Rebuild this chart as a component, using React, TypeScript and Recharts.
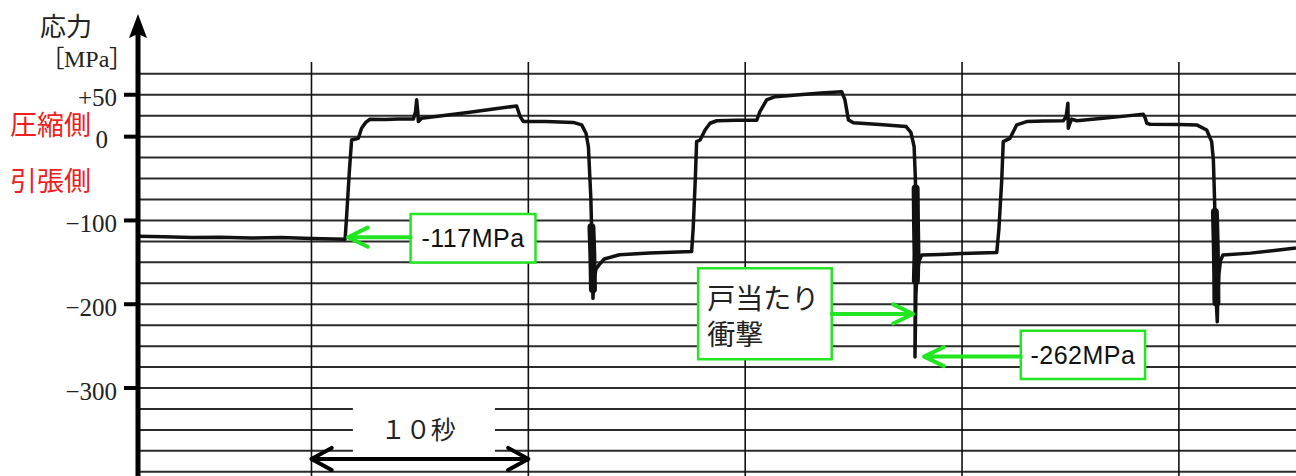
import React from 'react'
import { LineChart, Line, XAxis, YAxis, CartesianGrid, ReferenceLine, ReferenceArea, ReferenceDot } from 'recharts'

// time in seconds, stress in MPa (compression positive)
const TIME_DOMAIN: [number, number] = [2, 55.4]
const STRESS_DOMAIN: [number, number] = [-405, 89.1]
const STRESS_TICKS = [50, 0, -100, -200, -300]
const STRESS_GRID = [75, 50, 25, 0, -25, -50, -75, -100, -125, -150, -175, -200, -225, -250, -275, -300, -325, -350, -375, -400]
const TIME_GRID = [10, 20, 30, 40, 50]

// [t, MPa]
const baseline0 = [
  [2.0, -119], [3.2, -119.5], [4.5, -120.5], [5.8, -120], [7.2, -121], [8.6, -120.5], [10.0, -121.5], [11.55, -122.4],
]
const cycle1 = [
  [11.62, -95], [11.75, -40], [11.85, -4], [12.16, -2], [12.31, 10], [12.5, 17], [12.7, 20.8], [13.4, 20.5],
  [14.0, 21.2], [14.7, 21], [14.8, 30], [14.85, 44], [14.9, 30], [14.93, 18], [15.08, 22], [16.2, 25.5],
  [17.3, 29], [18.4, 33], [19.46, 36.6], [19.62, 24], [19.77, 18], [20.8, 18], [22.07, 17], [22.46, 14],
  [22.66, 4], [22.77, -12], [22.88, -72], [22.93, -120], [22.98, -193], [23.02, -172], [23.12, -158],
  [23.26, -153], [23.5, -146], [24.2, -141], [25.6, -139], [27.53, -137.2],
]
const cycle2 = [
  [27.6, -110], [27.7, -50], [27.76, -6], [27.92, -4], [28.15, 8], [28.38, 16], [28.69, 19], [29.6, 19.5],
  [30.53, 19.5], [30.68, 30], [30.99, 43.8], [31.38, 47.7], [32.5, 50], [33.5, 52], [34.45, 53.7],
  [34.6, 43.8], [34.76, 20], [34.99, 16.7], [36.2, 14.5], [37.42, 12], [37.64, 5], [37.79, -12],
  [37.85, -52], [37.87, -120], [37.84, -180], [37.83, -263], [37.87, -190], [37.92, -165], [38.02, -148],
  [38.14, -141.2], [39.0, -140.5], [40.0, -139.5], [41.6, -138.4],
]
const cycle3 = [
  [41.7, -110], [41.83, -52], [41.9, -6], [42.21, -2], [42.52, 14], [42.98, 18], [43.8, 18.6], [44.67, 19],
  [44.8, 24], [44.88, 40], [44.9, 10], [44.96, 15], [45.05, 21], [45.29, 19], [46.5, 22], [47.5, 24.5],
  [48.36, 26.7], [48.45, 22], [48.52, 16], [48.67, 14.8], [50.0, 14.5], [50.82, 14], [51.28, 8],
  [51.51, -6], [51.59, -28], [51.65, -80], [51.7, -140], [51.73, -200], [51.77, -221], [51.79, -195],
  [51.84, -165], [51.92, -148], [52.03, -141.2], [53.3, -139], [54.5, -135.5], [55.4, -132.8],
]

// thick smeared parts of the pen at each door impact
const smear1 = [[22.91, -108], [22.95, -140], [22.97, -165], [22.98, -182]]
const smear2 = [[37.86, -62], [37.88, -110], [37.9, -140], [37.87, -172]]
const smear3 = [[51.66, -90], [51.7, -130], [51.72, -165], [51.73, -198]]

const toPoints = (rows: number[][]) => rows.map(([t, v]) => ({ t, v }))
const trace = toPoints([...baseline0, ...cycle1, ...cycle2, ...cycle3])
const smears = [smear1, smear2, smear3].map(toPoints)

// callouts (data units)
const callouts = [
  { lines: ['-117MPa'], t: [14.57, 20.33], v: [-92.4, -150.1], arrow: { from: 14.57, to: 11.68, v: -120 } },
  { lines: ['戸当たり', '衝撃'], t: [27.83, 33.99], v: [-157, -265.6], arrow: { from: 33.99, to: 37.74, v: -211.6 } },
  { lines: ['-262MPa'], t: [42.71, 48.44], v: [-231.5, -289.1], arrow: { from: 42.71, to: 38.25, v: -262.5 } },
]
const span10s = { from: 10, to: 20, v: -384.6, label: '１０秒', box: { t: [11.91, 18.46], v: [-307, -380] } }

const GREEN = '#22e622'
const SERIF = "'Liberation Serif', 'Noto Sans CJK JP', serif"
const SANS = "'Liberation Sans', Arial, sans-serif"
const CJK = "'Noto Sans CJK JP', sans-serif"

function tickText(v: number) {
  if (v > 0) return `+${v}`
  if (v < 0) return `−${-v}`
  return '0'
}

function arrowShape(color: string, width: number, len: number, spread: number, both = false) {
  return (p: any) => {
    const { x1, y1, x2, y2 } = p
    const a = Math.atan2(y2 - y1, x2 - x1)
    const head = (x: number, y: number, ang: number) => {
      const ax = x - len * Math.cos(ang - spread)
      const ay = y - len * Math.sin(ang - spread)
      const bx = x - len * Math.cos(ang + spread)
      const by = y - len * Math.sin(ang + spread)
      return `M${ax},${ay}L${x},${y}L${bx},${by}`
    }
    const d = `M${x1},${y1}L${x2},${y2}` + head(x2, y2, a) + (both ? head(x1, y1, a + Math.PI) : '')
    return <path d={d} stroke={color} strokeWidth={width} fill="none" strokeLinecap="round" strokeLinejoin="round" />
  }
}

function StressChart() {
  return (
    <LineChart width={1296} height={476} margin={{ top: 62, right: 0, bottom: 0, left: 0 }}>
      <CartesianGrid horizontalValues={STRESS_GRID} vertical={false} stroke="#2b2b2b" strokeWidth={2} />
      <CartesianGrid verticalValues={TIME_GRID} horizontal={false} stroke="#111" strokeWidth={1.6} />
      <XAxis type="number" dataKey="t" domain={TIME_DOMAIN} allowDataOverflow hide />
      <YAxis
        type="number"
        dataKey="v"
        domain={STRESS_DOMAIN}
        allowDataOverflow
        ticks={STRESS_TICKS}
        interval={0}
        width={138}
        axisLine={{ stroke: '#000', strokeWidth: 5 }}
        tickLine={{ stroke: '#000', strokeWidth: 4 }}
        tickSize={14}
        tickMargin={7}
        tick={(p: any) => (
          <text x={p.x} y={p.y} dx={p.payload.value === 0 ? -9 : 0} dy={3} textAnchor="end" dominantBaseline="central"
            fontFamily={SERIF} fontSize={25} fill="#222">
            {tickText(p.payload.value)}
          </text>
        )}
      />
      <ReferenceArea
        x1={span10s.box.t[0]} x2={span10s.box.t[1]} y1={span10s.box.v[0]} y2={span10s.box.v[1]}
        fill="#fff" fillOpacity={1} stroke="none"
        label={{
          content: (p: any) => {
            const vb = p.viewBox
            return (
              <text x={vb.x + vb.width * 0.46} y={vb.y + vb.height * 0.56} textAnchor="middle" dominantBaseline="central"
                fontFamily={CJK} fontSize={25} fill="#222">{span10s.label}</text>
            )
          },
        }}
      />
      <Line data={trace} dataKey="v" type="linear" stroke="#111" strokeWidth={3.5} dot={false}
        strokeLinejoin="round" isAnimationActive={false} />
      {smears.map((s, i) => (
        <Line key={`s${i}`} data={s} dataKey="v" type="linear" stroke="#111" strokeWidth={8} dot={false}
          strokeLinecap="round" strokeLinejoin="round" isAnimationActive={false} />
      ))}
      <ReferenceLine
        segment={[{ x: span10s.from, y: span10s.v }, { x: span10s.to, y: span10s.v }]}
        ifOverflow="visible" shape={arrowShape('#000', 4, 23, 0.5, true)}
      />
      {callouts.map((c, i) => (
        <ReferenceLine key={`a${i}`}
          segment={[{ x: c.arrow.from, y: c.arrow.v }, { x: c.arrow.to, y: c.arrow.v }]}
          ifOverflow="visible" shape={arrowShape(GREEN, 4, 22, 0.45)}
        />
      ))}
      {callouts.map((c, i) => (
        <ReferenceArea key={`b${i}`}
          x1={c.t[0]} x2={c.t[1]} y1={c.v[0]} y2={c.v[1]}
          fill="#fff" fillOpacity={1} stroke={GREEN} strokeWidth={2.5}
          label={{
            content: (p: any) => {
              const vb = p.viewBox
              if (c.lines.length === 1) {
                return (
                  <text x={vb.x + vb.width / 2} y={vb.y + vb.height / 2} textAnchor="middle" dominantBaseline="central"
                    fontFamily={SANS} fontSize={25} letterSpacing={0.5} fill="#111">{c.lines[0]}</text>
                )
              }
              return (
                <g>
                  {c.lines.map((s, k) => (
                    <text key={k} x={vb.x + 9} y={vb.y + 29 + k * 36} dominantBaseline="central"
                      fontFamily={CJK} fontSize={28} fill="#222">{s}</text>
                  ))}
                </g>
              )
            },
          }}
        />
      ))}
      <ReferenceDot x={TIME_DOMAIN[0]} y={STRESS_DOMAIN[1]} r={0} ifOverflow="visible"
        shape={(p: any) => (
          <g>
            <line x1={p.cx} y1={p.cy} x2={p.cx} y2={p.cy - 30} stroke="#000" strokeWidth={5} />
            <path d={`M${p.cx},${p.cy - 48}L${p.cx - 9},${p.cy - 24}L${p.cx},${p.cy - 28}L${p.cx + 9},${p.cy - 24}Z`} fill="#000" />
          </g>
        )}
      />
    </LineChart>
  )
}

const sideText: React.CSSProperties = { position: 'absolute', whiteSpace: 'nowrap' }

export default function App() {
  return (
    <div style={{ position: 'absolute', left: 0, top: 0, width: 1296, height: 476, background: '#fff', overflow: 'hidden' }}>
      <StressChart />
      <div style={{ ...sideText, left: 40, top: 12, fontFamily: CJK, fontSize: 26, lineHeight: '26px', color: '#222' }}>応力</div>
      <div style={{ ...sideText, left: 52, top: 46, fontFamily: SERIF, fontSize: 24, lineHeight: '26px', color: '#222', fontFeatureSettings: '"palt"' }}>［MPa］</div>
      <div style={{ ...sideText, left: 10, top: 110, fontFamily: CJK, fontSize: 27, lineHeight: '28px', color: '#f01e1e' }}>圧縮側</div>
      <div style={{ ...sideText, left: 10, top: 166, fontFamily: CJK, fontSize: 27, lineHeight: '28px', color: '#f01e1e' }}>引張側</div>
    </div>
  )
}
